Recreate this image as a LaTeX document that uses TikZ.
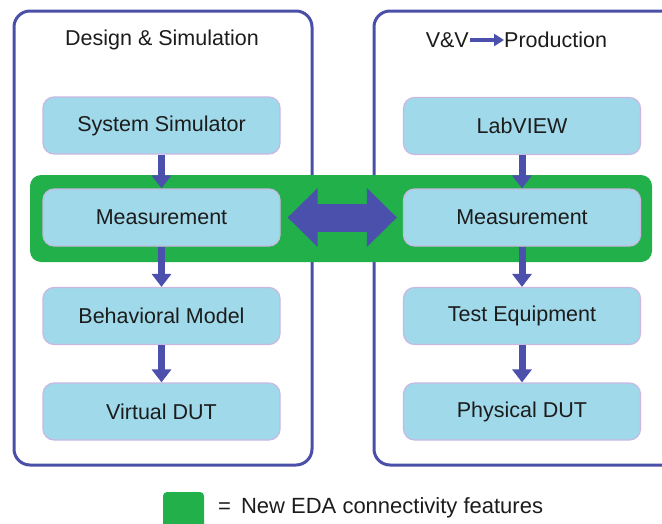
\documentclass[tikz,border=0pt]{standalone}
\usepackage{fontspec}
\setmainfont{Liberation Sans}
\usetikzlibrary{arrows.meta}
\definecolor{frameblue}{HTML}{4A4FA8}
\definecolor{arrowblue}{HTML}{4B50AC}
\definecolor{boxfill}{HTML}{A0D9EA}
\definecolor{boxedge}{HTML}{C9B8E2}
\definecolor{bandgreen}{HTML}{22B04B}
\definecolor{txt}{HTML}{1C1C1C}
\tikzset{
  frame/.style={draw=frameblue, line width=3pt, rounded corners=16pt},
  blockbox/.style={rectangle, draw=boxedge, line width=1.2pt, fill=boxfill, rounded corners=11pt,
    minimum width=237pt, minimum height=57pt, text=txt, font=\fontsize{21.5}{25}\selectfont, inner sep=0pt},
  flow/.style={draw=arrowblue, line width=7pt, -{Triangle[width=19pt,length=13pt]}},
  title/.style={text=txt, font=\fontsize{21.5}{25}\selectfont, inner sep=0pt},
  band/.style={fill=bandgreen, rounded corners=11pt}
}
\begin{document}
\begin{tikzpicture}[x=1pt,y=-1pt]
\useasboundingbox (0,0) rectangle (662,523);
% outer frames
\draw[frame] (14,11) rectangle (312,465);
\draw[frame] (374,11) rectangle (680,465);
% green band
\fill[band] (30,175) rectangle (652,262);
% titles
\node[title] (t1) at (162,40) {Design \& Simulation};
\node[title, anchor=east] (t2a) at (469,40) {V\&V};
\node[title, anchor=west] (t2b) at (504,40) {Production};
\draw[draw=arrowblue, line width=3.5pt, -{Triangle[width=12pt,length=10pt]}, shorten <=1pt, shorten >=0pt] (t2a.east) -- (t2b.west);
% left column
\node[blockbox] (sim) at (161.5,125.5) {System Simulator};
\node[blockbox] (meL) at (161.5,217.5) {Measurement};
\node[blockbox] (beh) at (161.5,316) {Behavioral Model};
\node[blockbox] (vdut) at (161.5,411.5) {Virtual DUT};
% right column
\node[blockbox] (lab) at (522,126) {LabVIEW};
\node[blockbox] (meR) at (522,217.5) {Measurement};
\node[blockbox] (teq) at (522,316) {Test Equipment};
\node[blockbox] (pdut) at (522,411.5) {Physical DUT};
% flows
\draw[flow] (sim.south) -- (meL.north);
\draw[flow] (meL.south) -- (beh.north);
\draw[flow] (beh.south) -- (vdut.north);
\draw[flow] (lab.south) -- (meR.north);
\draw[flow] (meR.south) -- (teq.north);
\draw[flow] (teq.south) -- (pdut.north);
% double arrow
\draw[draw=arrowblue, line width=28pt,
  {Triangle[width=57pt,length=30pt]}-{Triangle[width=57pt,length=30pt]},
  shorten <=7pt, shorten >=6pt] (meL.east) -- (meR.west);
% legend
\fill[bandgreen, rounded corners=4pt] (163,492) rectangle (204,532);
\node[title, anchor=west, font=\fontsize{22}{26}\selectfont] (leg) at (218,508) {=\hspace{10pt}New EDA connectivity features};
\end{tikzpicture}
\end{document}
